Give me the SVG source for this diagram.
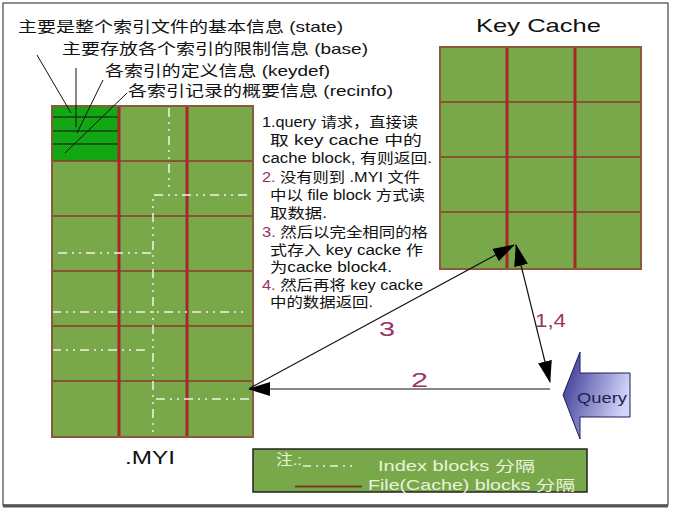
<svg xmlns="http://www.w3.org/2000/svg" width="673" height="511" viewBox="0 0 673 511">
<defs>
<style>
.t{font-family:"Liberation Sans","Noto Sans CJK SC",sans-serif;fill:#111}
.cell{fill:#79a84b;stroke:#8a5a3a;stroke-width:2}
.hl{stroke:#8e3a2a;stroke-width:1.6}
.vl{stroke:#a8262a;stroke-width:3}
.dd{stroke:#f2f2e0;stroke-width:1.5;fill:none;stroke-dasharray:9 5 2 5 2 5}
.ar{stroke:#111;stroke-width:1.2;fill:none}
.num{font-family:"Liberation Sans",sans-serif;fill:#993366}
.lg{font-family:"Liberation Sans","Noto Sans CJK SC",sans-serif;fill:#eaf2dc}
</style>
<marker id="ah" viewBox="0 0 22 14" refX="21" refY="7" markerWidth="22" markerHeight="14" markerUnits="userSpaceOnUse" orient="auto">
<path d="M0,0 L22,7 L0,14 Z" fill="#000"/>
</marker>
<marker id="ahs" viewBox="0 0 22 14" refX="1" refY="7" markerWidth="22" markerHeight="14" markerUnits="userSpaceOnUse" orient="auto">
<path d="M22,0 L0,7 L22,14 Z" fill="#000"/>
</marker>
<linearGradient id="qg" x1="0" y1="0" x2="1" y2="0.4">
<stop offset="0" stop-color="#2e2e8e"/>
<stop offset="1" stop-color="#d4d4fa"/>
</linearGradient>
</defs>
<rect x="0" y="0" width="673" height="511" fill="#fff"/>
<rect x="3" y="3" width="665" height="502" fill="none" stroke="#444" stroke-width="1.2"/>
<line x1="3" y1="506" x2="668" y2="506" stroke="#555" stroke-width="3"/>

<g id="myi">
<rect class="cell" x="52" y="106" width="201" height="331"/>
<rect x="52" y="106" width="67" height="55" fill="#13a813"/>
<g stroke="#111" stroke-width="1">
<line x1="52" y1="117" x2="119" y2="117"/>
<line x1="52" y1="131" x2="119" y2="131"/>
<line x1="52" y1="144" x2="119" y2="144"/>
</g>
<g class="hl">
<line x1="52" y1="161" x2="253" y2="161"/>
<line x1="52" y1="216" x2="253" y2="216"/>
<line x1="52" y1="271" x2="253" y2="271"/>
<line x1="52" y1="326" x2="253" y2="326"/>
<line x1="52" y1="381" x2="253" y2="381"/>
</g>
<g class="vl">
<line x1="119" y1="106" x2="119" y2="437"/>
<line x1="187" y1="106" x2="187" y2="437"/>
</g>
<g class="dd">
<polyline points="169,108 169,188"/>
<polyline points="247,195 153,195 153,437"/>
<line x1="58" y1="253" x2="153" y2="253"/>
<line x1="52" y1="312" x2="248" y2="312"/>
<line x1="52" y1="350" x2="147" y2="350"/>
<line x1="156" y1="399" x2="253" y2="399"/>
</g>
<rect x="52" y="106" width="201" height="331" fill="none" stroke="#8a5a3a" stroke-width="2"/>
<text class="t" x="125" y="464" font-size="18" textLength="50" lengthAdjust="spacingAndGlyphs">.MYI</text>
</g>

<g id="top-notes">
<text class="t" x="18" y="31.5" font-size="15" textLength="325" lengthAdjust="spacingAndGlyphs">主要是整个索引文件的基本信息 (state)</text>
<text class="t" x="62" y="53.5" font-size="15" textLength="306" lengthAdjust="spacingAndGlyphs">主要存放各个索引的限制信息 (base)</text>
<text class="t" x="105" y="76" font-size="15" textLength="225" lengthAdjust="spacingAndGlyphs">各索引的定义信息 (keydef)</text>
<text class="t" x="128" y="96" font-size="15" textLength="265" lengthAdjust="spacingAndGlyphs">各索引记录的概要信息 (recinfo)</text>
<g stroke="#111" stroke-width="1">
<line x1="37" y1="55" x2="71" y2="113"/>
<line x1="76" y1="68" x2="76" y2="127"/>
<line x1="103" y1="80" x2="77" y2="133"/>
<line x1="127" y1="93" x2="65" y2="153"/>
</g>
</g>

<g id="keycache">
<text class="t" x="476" y="32" font-size="19" textLength="125" lengthAdjust="spacingAndGlyphs">Key Cache</text>
<rect class="cell" x="440" y="47" width="201" height="222"/>
<g class="hl">
<line x1="440" y1="102" x2="641" y2="102"/>
<line x1="440" y1="157" x2="641" y2="157"/>
<line x1="440" y1="212" x2="641" y2="212"/>
</g>
<g class="vl">
<line x1="507" y1="47" x2="507" y2="269"/>
<line x1="575" y1="47" x2="575" y2="269"/>
</g>
<rect x="440" y="47" width="201" height="222" fill="none" stroke="#8a5a3a" stroke-width="2"/>
</g>

<g id="steps">
<text class="t" x="262" y="127" font-size="14" textLength="156" lengthAdjust="spacingAndGlyphs">1.query 请求，直接读</text>
<text class="t" x="270" y="145" font-size="14" textLength="152" lengthAdjust="spacingAndGlyphs">取 key cache 中的</text>
<text class="t" x="262" y="163" font-size="14" textLength="170" lengthAdjust="spacingAndGlyphs">cache block, 有则返回.</text>
<text class="t" x="262" y="181.5" font-size="14" textLength="158" lengthAdjust="spacingAndGlyphs"><tspan fill="#993366">2.</tspan> 没有则到 .MYI 文件</text>
<text class="t" x="270" y="200" font-size="14" textLength="155" lengthAdjust="spacingAndGlyphs">中以 file block 方式读</text>
<text class="t" x="270" y="218" font-size="14" textLength="57" lengthAdjust="spacingAndGlyphs">取数据.</text>
<text class="t" x="262" y="236.5" font-size="14" textLength="166" lengthAdjust="spacingAndGlyphs"><tspan fill="#993366">3.</tspan> 然后以完全相同的格</text>
<text class="t" x="270" y="255" font-size="14" textLength="153" lengthAdjust="spacingAndGlyphs">式存入 key cacke 作</text>
<text class="t" x="270" y="272" font-size="14" textLength="122" lengthAdjust="spacingAndGlyphs">为cacke block4.</text>
<text class="t" x="262" y="290" font-size="14" textLength="161" lengthAdjust="spacingAndGlyphs"><tspan fill="#993366">4.</tspan> 然后再将 key cacke</text>
<text class="t" x="270" y="307" font-size="14" textLength="103" lengthAdjust="spacingAndGlyphs">中的数据返回.</text>
</g>

<g id="connectors">
<line class="ar" x1="550" y1="389" x2="249" y2="389" marker-end="url(#ah)"/>
<line class="ar" x1="250" y1="388" x2="514" y2="245" marker-end="url(#ah)"/>
<line class="ar" x1="516" y1="245" x2="550" y2="382" marker-start="url(#ahs)" marker-end="url(#ah)"/>
<text class="num" x="379" y="336" font-size="21" textLength="16" lengthAdjust="spacingAndGlyphs">3</text>
<text class="num" x="411" y="387" font-size="21" textLength="17" lengthAdjust="spacingAndGlyphs">2</text>
<text class="num" x="535" y="327" font-size="19" textLength="31" lengthAdjust="spacingAndGlyphs">1,4</text>
</g>

<g id="query">
<path d="M563,395 L580,352 L580,373 L630,373 L630,417 L580,417 L580,439 Z" fill="url(#qg)" stroke="#1c1c5c" stroke-width="1"/>
<text x="577" y="403" font-family="Liberation Sans, sans-serif" font-size="15" fill="#22224e" textLength="50" lengthAdjust="spacingAndGlyphs">Query</text>
</g>

<g id="legend">
<rect x="253" y="449" width="334" height="43" fill="#79a84b" stroke="#222" stroke-width="1.5"/>
<text class="lg" x="276" y="465" font-size="15" textLength="26" lengthAdjust="spacingAndGlyphs">注.:</text>
<line x1="303" y1="466" x2="356" y2="466" stroke="#eaf2dc" stroke-width="1.3" stroke-dasharray="8 5 2 5 2 5"/>
<text class="lg" x="378" y="471" font-size="14" textLength="157" lengthAdjust="spacingAndGlyphs">Index blocks  分隔</text>
<line x1="295" y1="486.5" x2="362" y2="486.5" stroke="#7a3a1a" stroke-width="2"/>
<text class="lg" x="368" y="490" font-size="14" textLength="207" lengthAdjust="spacingAndGlyphs">File(Cache) blocks  分隔</text>
</g>
</svg>
